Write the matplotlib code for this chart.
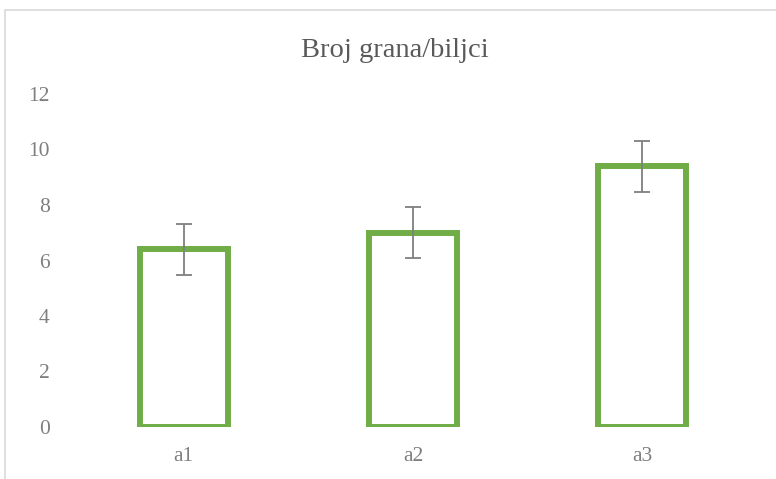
import matplotlib
matplotlib.use("Agg")
import matplotlib.pyplot as plt
from matplotlib.patches import Rectangle

categories = ["a1", "a2", "a3"]
values = [6.4, 7.0, 9.4]
errors = [0.91, 0.92, 0.92]
yticks = [0, 2, 4, 6, 8, 10, 12]

plt.rcParams['font.family'] = ['Liberation Serif', 'DejaVu Serif']

fig = plt.figure(figsize=(7.76, 4.79), dpi=100)
W, H = 776, 479
# outer chart frame
fig.patches.append(Rectangle((5 / W, -0.2), 1.2, 1 - 10 / H + 0.2,
                             transform=fig.transFigure, fill=False,
                             edgecolor='#d9d9d9', linewidth=1.2))

ax = fig.add_axes([69 / W, 1 - 427 / H, (757 - 69) / W, (427 - 94) / H])
x = list(range(len(categories)))
ax.bar(x, values, width=0.385, facecolor='white', edgecolor='#70AD47',
       linewidth=4.3, zorder=2)
ax.errorbar(x, values, yerr=errors, fmt='none', ecolor='#7f7f7f',
            elinewidth=1.3, capsize=6, capthick=1.3, zorder=3)

ax.set_xlim(-0.5, 2.5)
ax.set_ylim(0, 12)
ax.set_yticks(yticks)
ax.set_yticklabels([str(v) for v in yticks])
ax.set_xticks(x)
ax.set_xticklabels(categories)
for s in ax.spines.values():
    s.set_visible(False)
ax.tick_params(axis='both', length=0, colors='#595959', labelsize=15.5)
ax.tick_params(axis='y', pad=14)
ax.tick_params(axis='x', pad=14.5)
for lbl in ax.get_yticklabels() + ax.get_xticklabels():
    lbl.set_color('#7f7f7f')

fig.text(394.5 / W, 1 - 56.7 / H, "Broj grana/biljci", ha='center', va='baseline',
         fontsize=20.5, color='#595959')

fig.savefig("out.png", dpi=100)
